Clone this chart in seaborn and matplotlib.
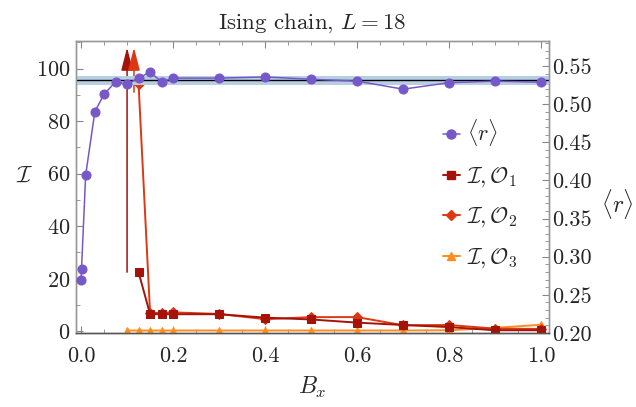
import matplotlib
matplotlib.use("Agg")
import pandas as pd
import matplotlib.pyplot as plt
import seaborn as sns
from matplotlib.ticker import MultipleLocator
from matplotlib.lines import Line2D

# Data
bx_r = [0.0, 0.001, 0.01, 0.03, 0.05, 0.075, 0.1, 0.125, 0.15, 0.175, 0.2,
        0.3, 0.4, 0.5, 0.6, 0.7, 0.8, 0.9, 1.0]
r_mean = [0.269, 0.284, 0.407, 0.490, 0.513, 0.529, 0.526, 0.534, 0.542, 0.529, 0.534,
          0.534, 0.5355, 0.5325, 0.530, 0.5195, 0.528, 0.530, 0.5286]

bx_ops = [0.125, 0.15, 0.175, 0.2, 0.3, 0.4, 0.5, 0.6, 0.7, 0.8, 0.9, 1.0]
info_o1 = [22.5, 6.5, 6.5, 6.5, 6.5, 5.2, 4.5, 3.3, 2.4, 1.6, 0.4, 0.4]
info_o2 = [94.0, 7.0, 7.0, 7.2, 6.6, 4.6, 5.4, 5.4, 2.3, 2.4, 1.0, 0.9]

bx_o3 = [0.1, 0.125, 0.15, 0.175, 0.2, 0.3, 0.4, 0.5, 0.6, 0.7, 0.8, 0.9, 1.0]
info_o3 = [0.3, 0.3, 0.3, 0.3, 0.3, 0.3, 0.3, 0.3, 0.3, 0.3, 0.4, 1.3, 2.5]

# off-scale values shown as arrows
arrow_bx = [0.1, 0.115]
arrow_from = [22.5, 91.0]
arrow_to = 108.0

goe_r = 0.531
goe_err = 0.0055

c_r = "#7658c8"
c_o1 = "#a51209"
c_o2 = "#dc3812"
c_o3 = "#ff8c1e"

sns.set_style("ticks")
plt.rcParams.update({
    "font.family": "cmr10",
    "mathtext.fontset": "cm",
    "axes.formatter.use_mathtext": True,
    "font.size": 16,
})

fig, ax = plt.subplots(figsize=(6.36, 4.07), dpi=100)
fig.subplots_adjust(left=0.1195, right=0.8632, top=0.9, bottom=0.1818)
ax2 = ax.twinx()

# left axis: information series
ops = pd.DataFrame({"Bx": bx_ops, "O1": info_o1, "O2": info_o2})
o3 = pd.DataFrame({"Bx": bx_o3, "O3": info_o3})
sns.lineplot(data=o3, x="Bx", y="O3", ax=ax, color=c_o3, marker="^", ms=6,
             mec=c_o3, lw=1.4, zorder=3)
sns.lineplot(data=ops, x="Bx", y="O2", ax=ax, color=c_o2, marker="D", ms=5,
             mec=c_o2, lw=1.4, zorder=4)
sns.lineplot(data=ops, x="Bx", y="O1", ax=ax, color=c_o1, marker="s", ms=6,
             mec=c_o1, lw=1.4, zorder=5)

for x0, y0, c in zip(arrow_bx, arrow_from, [c_o1, c_o2]):
    ax.annotate("", xy=(x0, arrow_to), xytext=(x0, y0),
                arrowprops=dict(arrowstyle="-|>,head_length=0.7,head_width=0.18",
                                mutation_scale=20, color=c, lw=1.1,
                                shrinkA=0, shrinkB=0), zorder=6)

# right axis: mean gap ratio
ax2.axhspan(goe_r - goe_err, goe_r + goe_err, color="#b7cfe2", lw=0, zorder=1)
ax2.axhline(goe_r, color="black", lw=1.0, zorder=2)
r_df = pd.DataFrame({"Bx": bx_r, "r": r_mean})
sns.lineplot(data=r_df, x="Bx", y="r", ax=ax2, color=c_r, marker="o", ms=6.5,
             mec=c_r, lw=1.1, zorder=3)

ax.set_xlim(-0.011, 1.017)
ax.set_ylim(-0.65, 110.6)
ax2.set_ylim(0.2, 0.583)

ax.xaxis.set_major_locator(MultipleLocator(0.2))
ax.xaxis.set_minor_locator(MultipleLocator(0.05))
ax.yaxis.set_major_locator(MultipleLocator(20))
ax.yaxis.set_minor_locator(MultipleLocator(10))
ax2.yaxis.set_major_locator(MultipleLocator(0.05))
ax2.yaxis.set_minor_locator(MultipleLocator(0.01))
ax.xaxis.set_major_formatter(matplotlib.ticker.FormatStrFormatter("%.1f"))
ax2.yaxis.set_major_formatter(matplotlib.ticker.FormatStrFormatter("%.2f"))

ax.tick_params(which="both", direction="in", top=True, right=False, color="#888888")
ax.tick_params(which="major", length=5, width=0.8)
ax.tick_params(which="minor", length=3, width=0.6)
ax.tick_params(axis="x", pad=10)
ax.tick_params(axis="y", pad=4)
ax2.tick_params(which="both", direction="in", left=False, color="#888888")
ax2.tick_params(which="major", length=5, width=0.8, pad=2)
ax2.tick_params(which="minor", length=3, width=0.6)

for a in (ax, ax2):
    for side in ["left", "right", "top"]:
        a.spines[side].set_color("#999999")
        a.spines[side].set_linewidth(1.0)
    a.spines["bottom"].set_color("#555555")
    a.spines["bottom"].set_linewidth(1.0)

ax.set_title(r"Ising chain, $L = 18$", fontsize=16.5, pad=9)
ax.set_xlabel(r"$B_x$", fontsize=17)
ax.xaxis.set_label_coords(0.5, -0.145)
ax.set_ylabel(r"$\mathcal{I}$", fontsize=17, rotation=0)
ax.yaxis.set_label_coords(-0.108, 0.5)
ax2.set_ylabel(r"$\langle r\rangle$", fontsize=17, rotation=0)
ax2.yaxis.set_label_coords(1.145, 0.5)

handles = [
    Line2D([], [], color=c_r, marker="o", ms=6.5, lw=1.1),
    Line2D([], [], color=c_o1, marker="s", ms=6, lw=1.4),
    Line2D([], [], color=c_o2, marker="D", ms=5, lw=1.4),
    Line2D([], [], color=c_o3, marker="^", ms=6, lw=1.4),
]
labels = [r"$\langle r\rangle$", r"$\mathcal{I},\mathcal{O}_1$",
          r"$\mathcal{I},\mathcal{O}_2$", r"$\mathcal{I},\mathcal{O}_3$"]
ax2.legend(handles, labels, loc="center left", bbox_to_anchor=(0.775, 0.477),
           frameon=False, handlelength=0.8, handletextpad=0.3,
           labelspacing=0.75, borderaxespad=0, borderpad=0, fontsize=16)

plt.savefig("out.png", dpi=100)
